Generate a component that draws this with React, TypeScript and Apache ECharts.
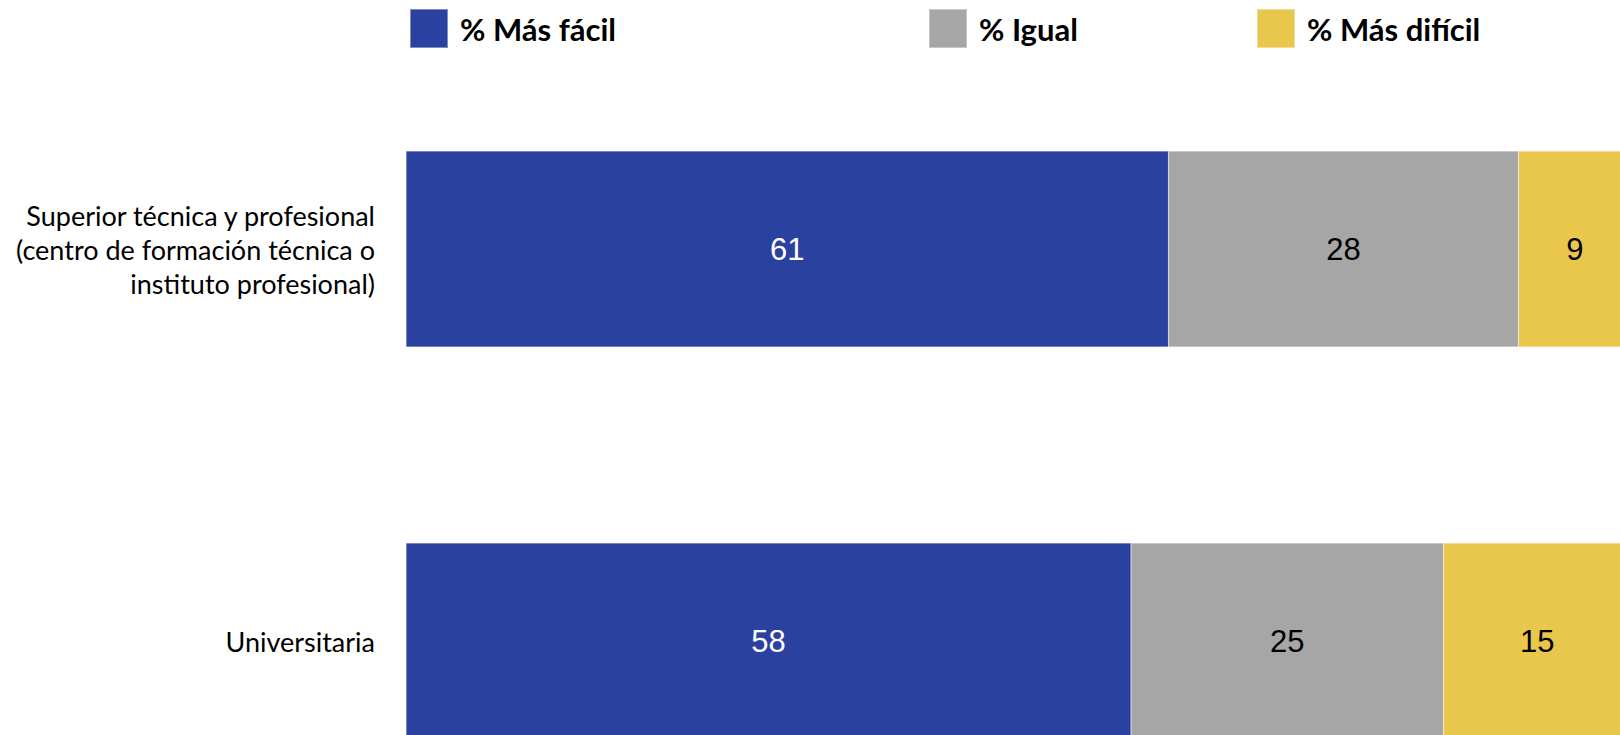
import React, { useEffect, useRef } from "react";
import * as echarts from "echarts";

const categories = [
  "Superior técnica y profesional\n(centro de formación técnica o\ninstituto profesional)",
  "Universitaria",
];
const seriesNames = ["% Más fácil", "% Igual", "% Más difícil"];
const masFacil = [61, 58];
const igual = [28, 25];
const masDificil = [9, 15];

const colors = ["#2A41A0", "#A6A6A6", "#E9C74D"];
const labelColors = ["#FFFFFF", "#000000", "#000000"];

export default function App() {
  const ref = useRef<HTMLDivElement>(null);
  useEffect(() => {
    if (!ref.current) return;
    const chart = echarts.init(ref.current, undefined, { renderer: "svg" });
    const values = [masFacil, igual, masDificil];
    const legendPos = [409, 928, 1256];
    chart.setOption({
      animation: false,
      backgroundColor: "#FFFFFF",
      legend: seriesNames.map((n, i) => ({
        data: [n],
        left: legendPos[i],
        top: 8,
        padding: 0,
        itemWidth: 38,
        itemHeight: 39,
        icon: "rect",
        textStyle: {
          fontFamily: "Lato",
          fontWeight: "bold",
          fontSize: 31,
          color: "#000",
          padding: [0, 0, 0, 7],
        },
      })),
      grid: { left: 406, top: 53, width: 1225, height: 784 },
      xAxis: { type: "value", min: 0, max: 98, show: false },
      yAxis: {
        type: "category",
        inverse: true,
        data: categories,
        axisLine: { show: false },
        axisTick: { show: false },
        splitLine: { show: false },
        axisLabel: {
          margin: 31,
          fontFamily: "Lato",
          fontSize: 27,
          lineHeight: 34,
          color: "#000",
          align: "right",
        },
      },
      series: seriesNames.map((n, i) => ({
        name: n,
        type: "bar",
        stack: "total",
        barWidth: 196,
        data: values[i],
        itemStyle: { color: colors[i], borderColor: "rgba(255,255,255,0.4)", borderWidth: 0.5 },
        label: {
          show: true,
          position: "inside",
          fontFamily: "Liberation Sans",
          fontSize: 31,
          color: labelColors[i],
        },
      })),
    });
    return () => chart.dispose();
  }, []);
  return (
    <div
      style={{
        position: "absolute",
        left: 0,
        top: 0,
        width: 1620,
        height: 735,
        overflow: "hidden",
      }}
    >
      <div ref={ref} style={{ width: 1700, height: 900 }} />
    </div>
  );
}
